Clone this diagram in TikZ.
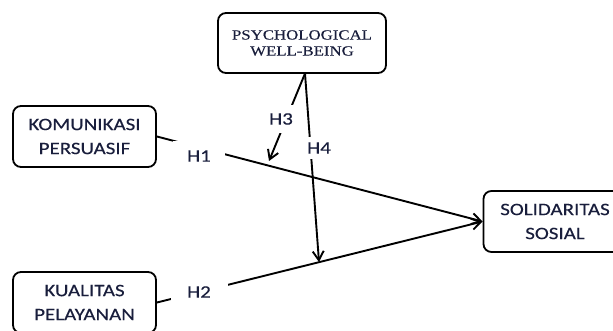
\documentclass[tikz,border=0pt]{standalone}
\usepackage{fontspec}
\usetikzlibrary{arrows.meta}
\newfontfamily\calfont[FakeStretch=1.2,FakeBold=0.25]{Carlito}
\newfontfamily\tnrfont[FakeStretch=1.2,FakeBold=0.2]{Liberation Serif}
\definecolor{txt}{RGB}{25,30,60}
\tikzset{
  box/.style={draw=black, line width=1.8pt, rounded corners=8pt, fill=white,
    minimum width=143pt, minimum height=61pt, inner sep=0pt, align=center,
    text=txt, font=\calfont\fontsize{17.5}{24}\selectfont},
  serifbox/.style={box, minimum width=168pt, minimum height=60pt,
    font=\tnrfont\fontsize{14}{16}\selectfont},
  conn/.style={draw=black, line width=1.9pt},
  arr/.style={conn, -{Straight Barb[length=9pt,width=11pt,line width=1.9pt]}},
  hlab/.style={fill=white, inner sep=0pt, text=txt, font=\calfont\fontsize{17.5}{20}\selectfont}
}
\begin{document}
\begin{tikzpicture}[x=1pt,y=-1pt]
\useasboundingbox (0,0) rectangle (613,331);
\begin{scope}
\clip (0,0) rectangle (613,331);
\node[serifbox] (psy) at (302,43) {PSYCHOLOGICAL\\WELL-BEING};
\node[box] (kom) at (84.5,136.5) {KOMUNIKASI\\PERSUASIF};
\node[box] (kua) at (84.5,302.5) {KUALITAS\\PELAYANAN};
\node[box] (sol) at (555,221.5) {SOLIDARITAS\\SOSIAL};
\coordinate (top) at (305,73.5);
\coordinate (h3end) at (269,161);
\coordinate (h4end) at (319,262);
\draw[arr] (kom.east) -- (sol.west);
\draw[arr] (kua.east) -- (sol.west);
\draw[arr] (top) -- (h3end);
\draw[arr] (top) -- (h4end);
\node[hlab, minimum width=52pt, minimum height=30pt] (h1) at (199,156) {H1};
\node[hlab, minimum width=57pt, minimum height=20pt] (h2) at (199,292) {H2};
\node[hlab, minimum width=26pt, minimum height=28pt] (h3) at (281,119) {H3};
\node[hlab, minimum width=24pt, minimum height=22pt] (h4) at (319,148) {H4};
\end{scope}
\end{tikzpicture}
\end{document}
